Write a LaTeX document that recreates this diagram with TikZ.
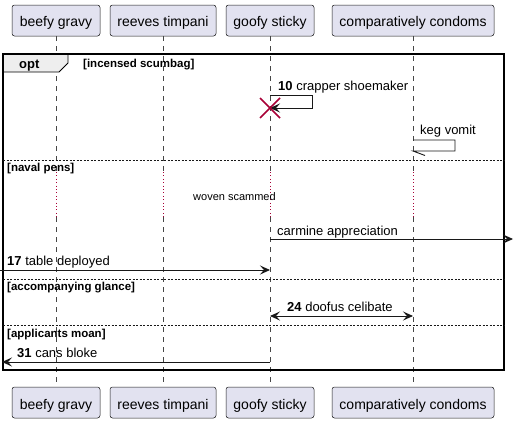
\documentclass[tikz,border=0pt]{standalone}
\usepackage{fontspec}
\setmainfont{Liberation Sans}
\usetikzlibrary{arrows.meta}
\definecolor{partfill}{HTML}{E2E2F0}
\definecolor{inkc}{HTML}{181818}
\definecolor{destroyc}{HTML}{A80036}
\definecolor{tabfill}{HTML}{EEEEEE}
\begin{document}
\begin{tikzpicture}[x=1pt,y=-1pt,
  part/.style={draw=inkc, line width=0.5pt, fill=partfill, rounded corners=2.5pt,
    inner sep=0pt, minimum height=31pt, text height=13pt, text depth=0pt,
    font=\fontsize{14}{16}\selectfont, text=black},
  life/.style={draw=inkc!80, line width=0.5pt, dash pattern=on 5pt off 5pt},
  delayline/.style={draw=destroyc, line width=0.8pt, dash pattern=on 0.8pt off 2.6pt},
  msg/.style={draw=inkc, line width=0.9pt, -{Stealth[length=10pt,width=9pt,inset=4pt]}},
  bimsg/.style={draw=inkc, line width=0.9pt, {Stealth[length=10pt,width=9pt,inset=4pt]}-{Stealth[length=10pt,width=9pt,inset=4pt]}},
  lbl/.style={inner sep=0pt, anchor=base west, font=\fontsize{13}{15}\selectfont},
  glbl/.style={inner sep=0pt, anchor=base west, font=\fontsize{11.5}{13}\selectfont\bfseries},
  sep/.style={draw=inkc, line width=0.8pt, dash pattern=on 2pt off 1.5pt},
]
\useasboundingbox (0,0) rectangle (514,423);

% participants
\node[part, minimum width=88pt]  (bgT) at (56,20.5)  {beefy gravy};
\node[part, minimum width=106pt] (rtT) at (163,20.5) {reeves timpani};
\node[part, minimum width=88pt]  (gsT) at (270,20.5) {goofy sticky};
\node[part, minimum width=162pt] (ccT) at (413,20.5) {comparatively condoms};
\node[part, minimum width=88pt]  (bgB) at (56,402.5)  {beefy gravy};
\node[part, minimum width=106pt] (rtB) at (163,402.5) {reeves timpani};
\node[part, minimum width=88pt]  (gsB) at (270,402.5) {goofy sticky};
\node[part, minimum width=162pt] (ccB) at (413,402.5) {comparatively condoms};

% y levels
\coordinate (dA) at (0,172);
\coordinate (dB) at (0,217);
\coordinate (y10a) at (0,95);
\coordinate (y10b) at (0,108);
\coordinate (ykA) at (0,140);
\coordinate (ykB) at (0,151);
\coordinate (yca) at (0,239);
\coordinate (y17) at (0,270);
\coordinate (y24) at (0,316);
\coordinate (y31) at (0,362);
\coordinate (leftE) at (0,270);
\coordinate (leftE2) at (2,362);
\coordinate (rightE) at (513,239);
\coordinate (self10) at (312,0);
\coordinate (selfk) at (455,0);

% lifelines
\foreach \p in {bg,rt,gs,cc}{
  \draw[life] (\p T.south) -- (\p T.south |- dA);
  \draw[delayline] (\p T.south |- dA) -- (\p T.south |- dB);
  \draw[life] (\p T.south |- dB) -- (\p B.north);
}

% frame
\filldraw[fill=tabfill, draw=black, line width=0.9pt] (3,54) -- (68,54) -- (68,63) -- (59,72) -- (3,72) -- cycle;
\draw[black, line width=1.6pt] (3,54) rectangle (504,370);
\node[inner sep=0pt, anchor=base west, font=\fontsize{13}{15}\selectfont\bfseries] (opt) at (19,68) {opt};
\node[glbl] (g1) at (83,67) {[incensed scumbag]};
\draw[sep] (3,160) -- (504,160);
\node[glbl] (g2) at (7,171) {[naval pens]};
\draw[sep] (3,279) -- (504,279);
\node[glbl] (g3) at (7,290) {[accompanying glance]};
\draw[sep] (3,325) -- (504,325);
\node[glbl] (g4) at (7,337) {[applicants moan]};

% message 10 (self, destroy)
\draw[msg] (gsT.south |- y10a) -- (self10 |- y10a) -- (self10 |- y10b) -- (gsT.south |- y10b);
\node[lbl] (t10) at (278,90.5) {\textbf{10} crapper shoemaker};
\draw[destroyc, line width=1.5pt] ([shift={(-10,-10)}]gsT.south |- y10b) -- ([shift={(10,10)}]gsT.south |- y10b);
\draw[destroyc, line width=1.5pt] ([shift={(-10,10)}]gsT.south |- y10b) -- ([shift={(10,-10)}]gsT.south |- y10b);

% keg vomit (self, half arrow)
\draw[inkc, line width=0.9pt] (ccT.south |- ykA) -- (selfk |- ykA) -- (selfk |- ykB) -- (ccT.south |- ykB) -- ++(12,4.5);
\node[lbl] (tk) at (420,134.5) {keg vomit};

% delay text
\node[inner sep=0pt, anchor=base west, font=\fontsize{11}{13}\selectfont] (dl) at (193,200) {woven scammed};

% carmine appreciation
\draw[msg] (gsT.south |- yca) -- (rightE);
\node[lbl] (tc) at (277,235) {carmine appreciation};

% 17
\draw[msg] (leftE) -- (gsT.south |- y17);
\node[lbl] (t17) at (7,265.5) {\textbf{17} table deployed};

% 24
\draw[bimsg] (gsT.south |- y24) -- (ccT.south |- y24);
\node[lbl] (t24) at (287,311.5) {\textbf{24} doofus celibate};

% 31
\draw[msg] (gsT.south |- y31) -- (leftE2);
\node[lbl] (t31) at (17,357.5) {\textbf{31} cans bloke};
\end{tikzpicture}
\end{document}
